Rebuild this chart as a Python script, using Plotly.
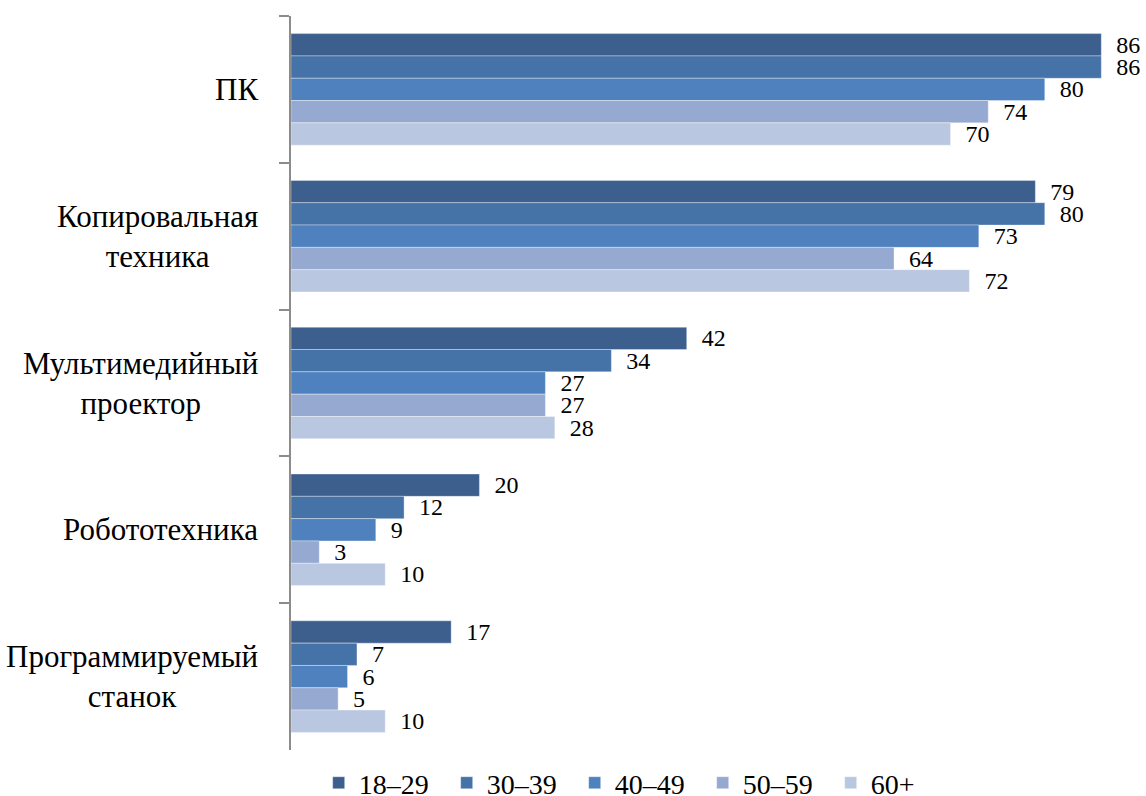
import plotly.graph_objects as go

categories = ["ПК", "Копировальная<br>техника", "Мультимедийный<br>проектор", "Робототехника", "Программируемый<br>станок"]
series_names = ["18–29", "30–39", "40–49", "50–59", "60+"]
v_18_29 = [86, 79, 42, 20, 17]
v_30_39 = [86, 80, 34, 12, 7]
v_40_49 = [80, 73, 27, 9, 6]
v_50_59 = [74, 64, 27, 3, 5]
v_60 = [70, 72, 28, 10, 10]
colors = ["#3C5F8E", "#4572A7", "#4E81BD", "#95A9D1", "#BAC7E0"]

values = [v_18_29, v_30_39, v_40_49, v_50_59, v_60]
FONT = "Liberation Serif"

fig = go.Figure()
for name, vals, col in zip(series_names, values, colors):
    fig.add_trace(go.Bar(
        y=categories, x=vals, name=name, orientation="h",
        marker=dict(color=col, line=dict(color="rgba(255,255,255,0.35)", width=1)),
        text=[f"  {v}" for v in vals], textposition="outside",
        textfont=dict(family=FONT, size=24, color="#000"),
        constraintext="none", cliponaxis=False,
    ))

annotations = [
    dict(x=0, xref="paper", y=c, yref="y", text=c, showarrow=False,
         xanchor="right", align="center", xshift=-31,
         font=dict(family=FONT, size=31, color="#000"))
    for c in categories
]

fig.update_layout(
    width=1146, height=796,
    margin=dict(l=291, r=7, t=16, b=46, autoexpand=False),
    paper_bgcolor="white", plot_bgcolor="white",
    barmode="group", bargap=0.24, bargroupgap=0,
    font=dict(family=FONT, size=24, color="#000"),
    xaxis=dict(range=[0, 90], visible=False, showgrid=False, zeroline=False),
    yaxis=dict(autorange="reversed", showticklabels=False, showline=True,
               linecolor="#8C8C8C", linewidth=2, ticks="outside", ticklen=10,
               tickcolor="#8C8C8C", tickwidth=2, tickson="boundaries", showgrid=False),
    legend=dict(orientation="h", x=0.41, xanchor="center", y=-0.045, yanchor="middle",
                font=dict(family=FONT, size=28, color="#000"), entrywidth=83,
                traceorder="normal", itemwidth=30),
    annotations=annotations,
    showlegend=True,
)
fig.write_html("out.html", config={"displayModeBar": False},
               post_script="document.body.style.margin='0';")
